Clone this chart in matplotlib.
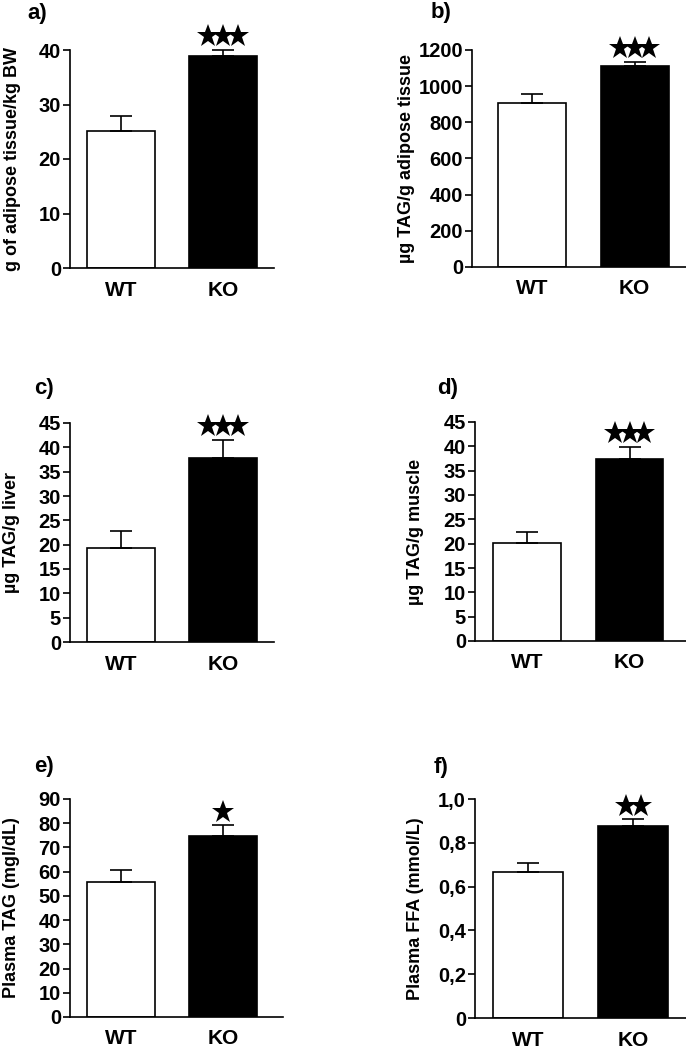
import matplotlib
matplotlib.use("Agg")
import matplotlib.pyplot as plt
from matplotlib.transforms import offset_copy

matplotlib.rcParams.update({
    "font.family": ["Liberation Sans", "DejaVu Sans"],
    "font.weight": "bold",
    "axes.spines.top": False,
    "axes.spines.right": False,
    "axes.linewidth": 1.2,
})

groups = ["WT", "KO"]
panel_tags = ["a)", "b)", "c)", "d)", "e)", "f)"]
ylabels = [
    "g of adipose tissue/kg BW",
    "\u00b5g TAG/g adipose tissue",
    "\u00b5g TAG/g liver",
    "\u00b5g TAG/g muscle",
    "Plasma TAG (mgl/dL)",
    "Plasma FFA (mmol/L)",
]
wt_mean = [25.1, 905, 19.3, 20.2, 55.8, 0.667]
wt_sem = [2.7, 53, 3.6, 2.2, 4.9, 0.040]
ko_mean = [38.9, 1112, 37.9, 37.3, 74.9, 0.875]
ko_sem = [1.1, 23, 3.7, 2.6, 4.2, 0.032]
n_stars = [3, 3, 3, 3, 1, 2]
yticks = [
    [0, 10, 20, 30, 40],
    [0, 200, 400, 600, 800, 1000, 1200],
    [0, 5, 10, 15, 20, 25, 30, 35, 40, 45],
    [0, 5, 10, 15, 20, 25, 30, 35, 40, 45],
    [0, 10, 20, 30, 40, 50, 60, 70, 80, 90],
    [0, 0.2, 0.4, 0.6, 0.8, 1.0],
]
ytick_labels = [None, None, None, None, None, ["0", "0,2", "0,4", "0,6", "0,8", "1,0"]]

# layout in pixels: left, top, width, height, xmin, xmax, ylabel offset (axes frac)
W, H = 686, 1048
layout = [
    (70, 50, 204, 218, -0.50, 1.50, -0.24),
    (472, 50, 214, 217, -0.585, 1.50, -0.265),
    (70, 423, 204, 219, -0.50, 1.50, -0.245),
    (475, 422, 211, 219, -0.51, 1.55, -0.24),
    (70, 799, 213, 218, -0.50, 1.59, -0.235),
    (475, 799, 211, 219, -0.50, 1.50, -0.24),
]
tag_pos = [(27, 3), (431, 2), (34, 378), (437, 378), (34, 756), (434, 757)]

fig = plt.figure(figsize=(W / 100, H / 100), dpi=100)

for i in range(6):
    left, top, w, h, xmin, xmax, lab_x = layout[i]
    ax = fig.add_axes([left / W, 1 - (top + h) / H, w / W, h / H])
    x = [0, 1]
    means = [wt_mean[i], ko_mean[i]]
    sems = [wt_sem[i], ko_sem[i]]
    ax.bar(x, means, width=0.66, color=["white", "black"],
           edgecolor="black", linewidth=1.2, zorder=2)
    ax.errorbar(x, means, yerr=[[0, 0], sems], fmt="none", ecolor="black",
                elinewidth=1.2, capsize=8, capthick=1.2, zorder=3, clip_on=False)
    # significance stars, packed tightly above the KO error bar
    n = n_stars[i]
    for k in range(n):
        dx = (k - (n - 1) / 2) * 10.6
        tr = offset_copy(ax.transData, fig=fig, x=dx, y=9.8, units="points")
        ax.plot([1], [ko_mean[i] + ko_sem[i]], marker="*", markersize=17,
                color="black", markeredgewidth=0, transform=tr, clip_on=False)
    ax.set_xlim(xmin, xmax)
    ax.set_ylim(0, yticks[i][-1])
    ax.set_yticks(yticks[i])
    if ytick_labels[i] is not None:
        ax.set_yticklabels(ytick_labels[i])
    ax.set_xticks(x)
    ax.set_xticklabels(groups)
    ax.tick_params(axis="y", length=5, width=1.2, labelsize=14.5, pad=1.5)
    ax.tick_params(axis="x", length=0, labelsize=15, pad=9)
    for lbl in ax.get_xticklabels() + ax.get_yticklabels():
        lbl.set_fontweight("bold")
    ax.set_ylabel(ylabels[i], fontsize=13, fontweight="bold")
    ax.yaxis.set_label_coords(lab_x, 0.5)
    tx, ty = tag_pos[i]
    fig.text(tx / W, 1 - ty / H, panel_tags[i], ha="left", va="top",
             fontsize=16, fontweight="bold")

fig.savefig("out.png", dpi=100)
